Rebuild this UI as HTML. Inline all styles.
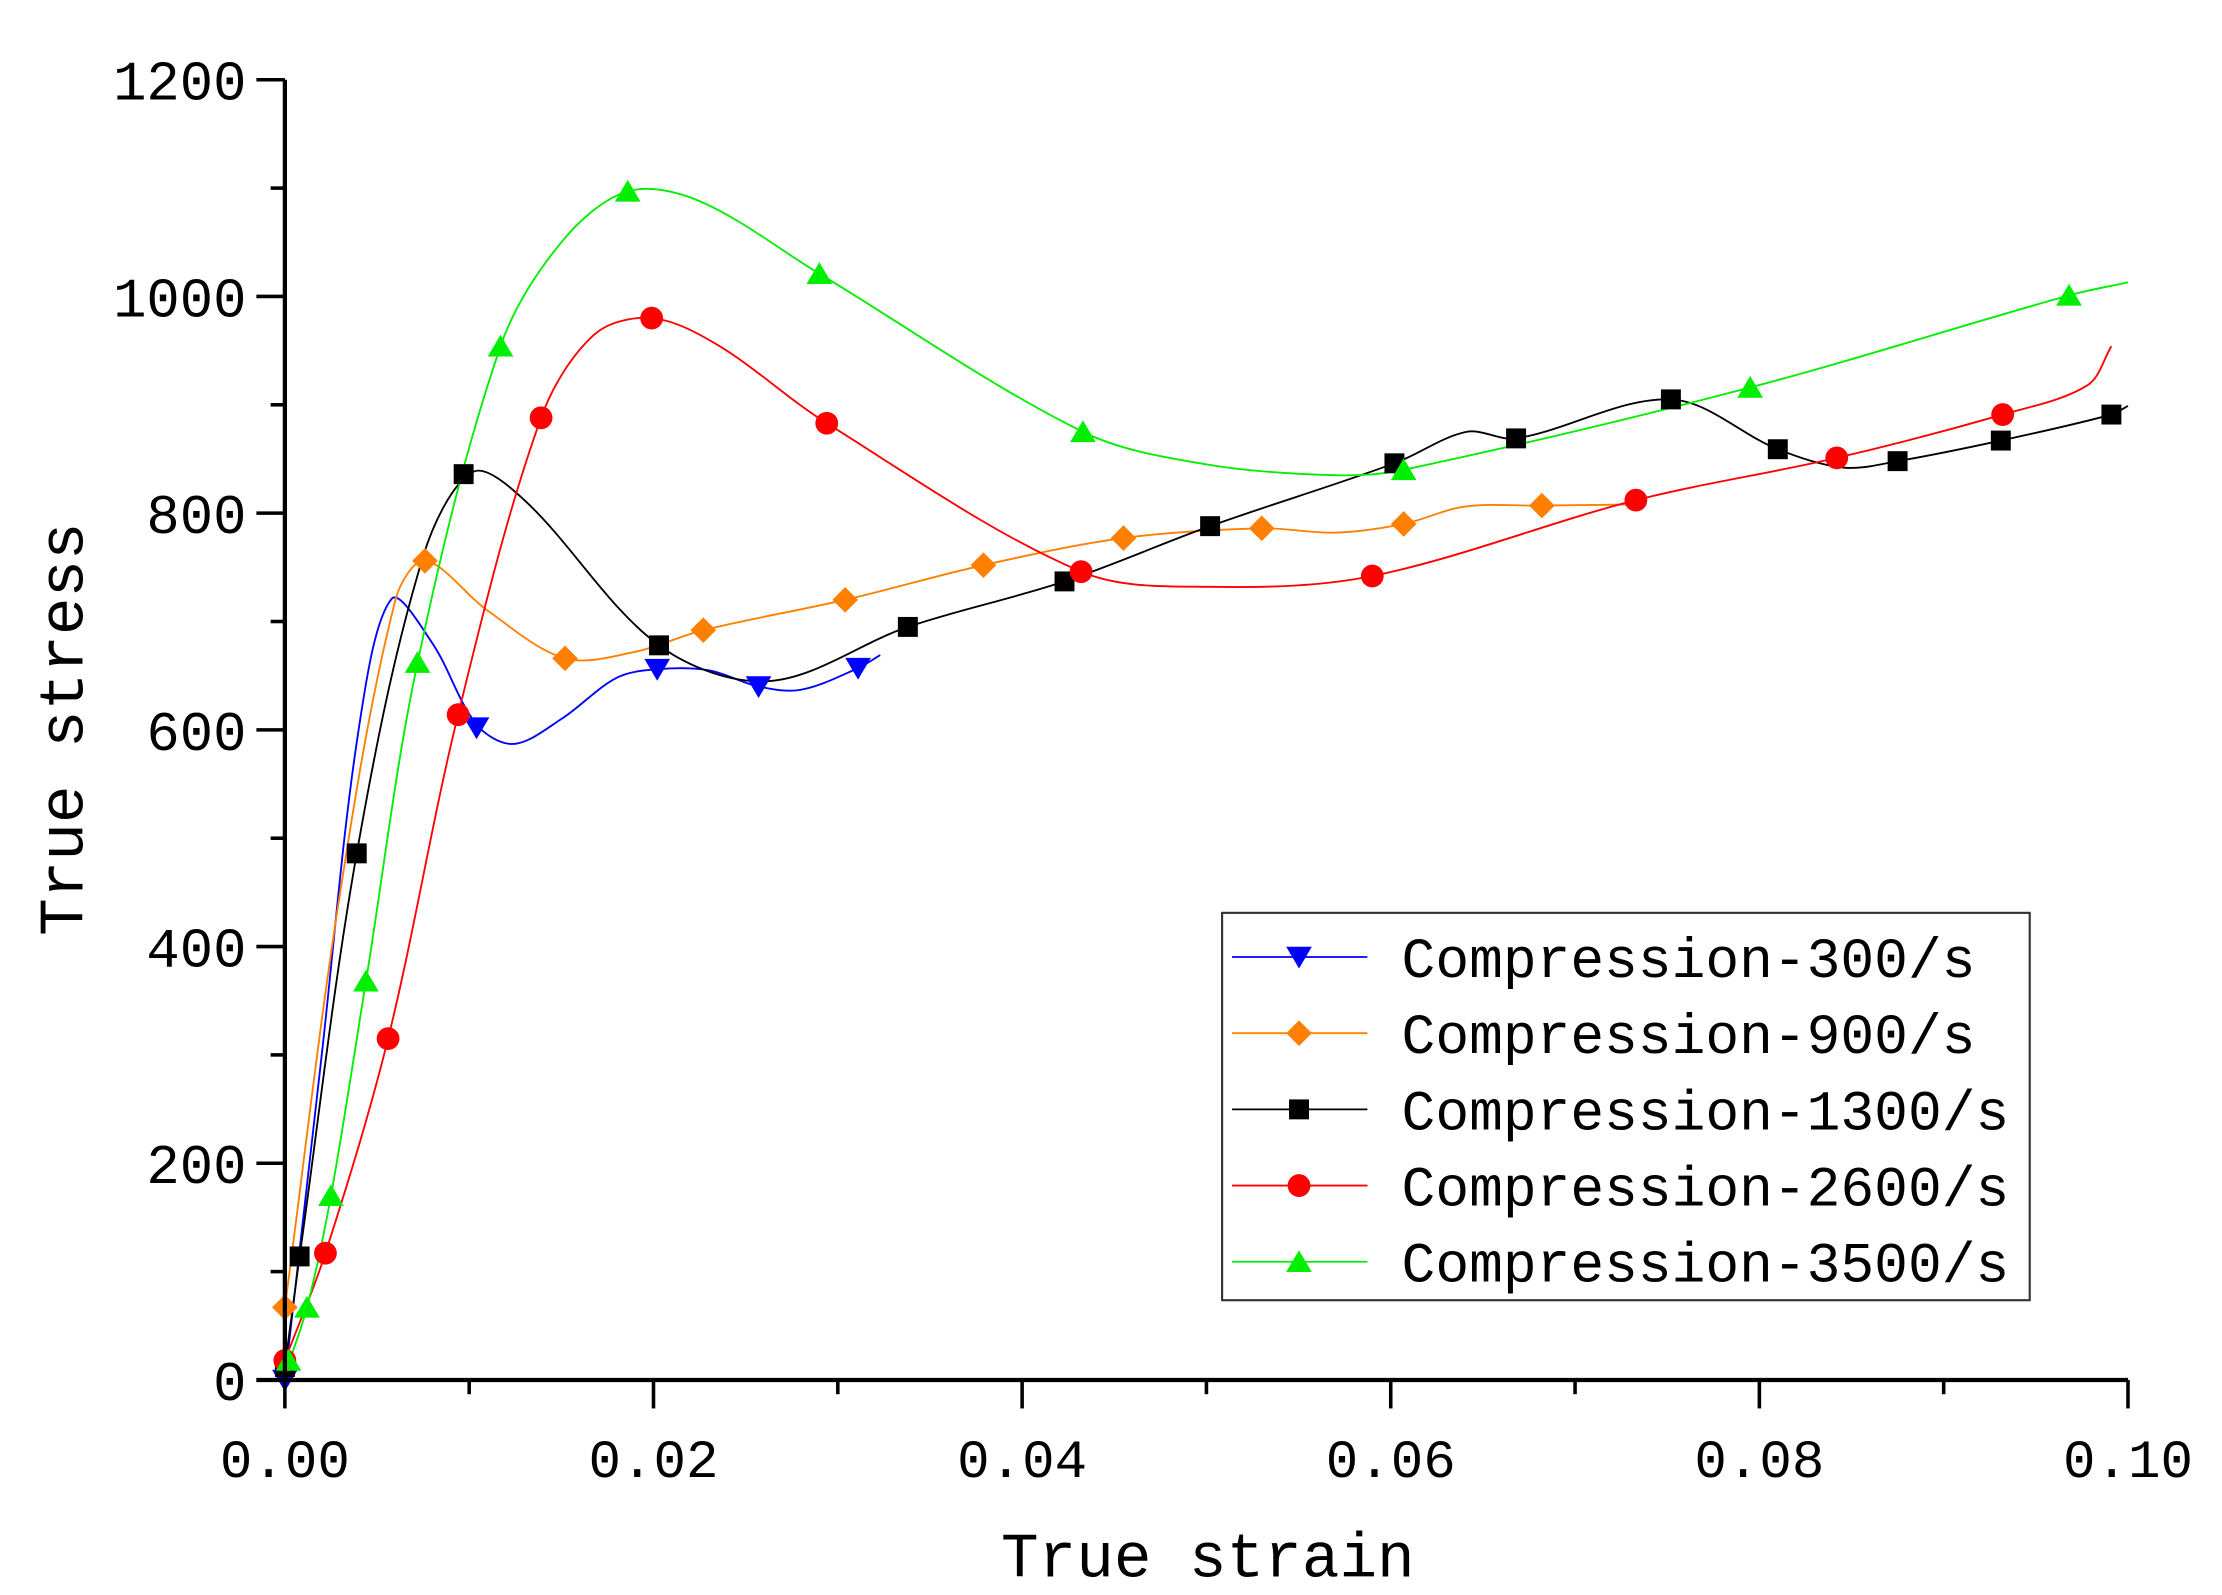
<!DOCTYPE html>
<html><head><meta charset="utf-8"><style>
html,body{margin:0;padding:0;background:#fff;}
svg{display:block;}
</style></head><body>
<svg id="chart" width="2222" height="1595" viewBox="0 0 1560 1120" preserveAspectRatio="none" xmlns="http://www.w3.org/2000/svg"></svg>
<script>
const xTicks = [0, 0.02, 0.04, 0.06, 0.08, 0.10];
const xTickLabels = ["0.00", "0.02", "0.04", "0.06", "0.08", "0.10"];
const yTicks = [0, 200, 400, 600, 800, 1000, 1200];
const yTickLabels = ["0", "200", "400", "600", "800", "1000", "1200"];
const seriesNames = ["Compression-300/s", "Compression-900/s", "Compression-1300/s", "Compression-2600/s", "Compression-3500/s"];

const curve300X = [0, 0.002, 0.004, 0.0058, 0.008, 0.0104, 0.0124, 0.015, 0.018, 0.0202, 0.023, 0.0257, 0.028, 0.0311, 0.0323];
const curve300Y = [0, 300, 600, 721, 680, 605, 587, 610, 648, 656, 655, 640, 637, 657, 669];
const mark300X = [0, 0.0104, 0.0202, 0.0257, 0.0311];
const mark300Y = [0, 602, 656, 640, 657];

const curve900X = [0, 0.003, 0.006, 0.0076, 0.011, 0.0152, 0.019, 0.0227, 0.0304, 0.0379, 0.0455, 0.053, 0.057, 0.0607, 0.064, 0.0682, 0.0734];
const curve900Y = [67, 450, 720, 756, 710, 666, 672, 692, 720, 752, 777, 786, 782, 790, 806, 807, 808];
const mark900X = [0, 0.0076, 0.0152, 0.0227, 0.0304, 0.0379, 0.0455, 0.053, 0.0607, 0.0682];
const mark900Y = [67, 756, 666, 692, 720, 752, 777, 786, 790, 807];

const curve1300X = [0, 0.0008, 0.0039, 0.0075, 0.0102, 0.013, 0.0203, 0.0263, 0.0338, 0.0423, 0.0502, 0.0602, 0.0641, 0.0668, 0.0752, 0.081, 0.0846, 0.0875, 0.0931, 0.0991, 0.1];
const curve1300Y = [12, 114, 486, 760, 838, 812, 678, 645, 695, 737, 788, 846, 875, 869, 905, 859, 842, 848, 867, 891, 899];
const mark1300X = [0, 0.0008, 0.0039, 0.0097, 0.0203, 0.0338, 0.0423, 0.0502, 0.0602, 0.0668, 0.0752, 0.081, 0.0875, 0.0931, 0.0991];
const mark1300Y = [12, 114, 486, 836, 678, 695, 737, 788, 846, 869, 905, 859, 848, 867, 891];

const curve2600X = [0, 0.0022, 0.0056, 0.0094, 0.0139, 0.0168, 0.0199, 0.0235, 0.0294, 0.0432, 0.0502, 0.059, 0.0733, 0.0842, 0.0932, 0.0978, 0.0991];
const curve2600Y = [18, 117, 315, 614, 888, 965, 980, 955, 883, 746, 732, 742, 812, 851, 891, 918, 954];
const mark2600X = [0, 0.0022, 0.0056, 0.0094, 0.0139, 0.0199, 0.0294, 0.0432, 0.059, 0.0733, 0.0842, 0.0932];
const mark2600Y = [18, 117, 315, 614, 888, 980, 883, 746, 742, 812, 851, 891];

const curve3500X = [0, 0.0012, 0.0025, 0.0044, 0.0072, 0.0117, 0.015, 0.0186, 0.0225, 0.029, 0.0433, 0.05, 0.057, 0.0607, 0.0795, 0.0968, 0.1];
const curve3500Y = [5, 67, 170, 368, 662, 954, 1050, 1097, 1088, 1021, 875, 845, 835, 840, 916, 1001, 1013];
const mark3500X = [0.0002, 0.0012, 0.0025, 0.0044, 0.0072, 0.0117, 0.0186, 0.029, 0.0433, 0.0607, 0.0795, 0.0968];
const mark3500Y = [18, 67, 170, 368, 662, 954, 1097, 1021, 875, 840, 916, 1001];

const NS = "http://www.w3.org/2000/svg";
const svg = document.getElementById("chart");
const X0 = 200, X1 = 1494, Y0 = 969, Y1 = 56;
function sx(v){ return X0 + (v - 0) / 0.10 * (X1 - X0); }
function sy(v){ return Y0 - (v - 0) / 1200 * (Y0 - Y1); }
function el(tag, attrs){ const e = document.createElementNS(NS, tag); for (const k in attrs) e.setAttribute(k, attrs[k]); svg.appendChild(e); return e; }

function smoothPath(xs, ys){
  const p = xs.map((x,i)=>[sx(x), sy(ys[i])]);
  const n = p.length;
  const d = [];
  for (let i=0;i<n-1;i++) d.push(Math.hypot(p[i+1][0]-p[i][0], p[i+1][1]-p[i][1]) || 1);
  const m = p.map((pt,i)=>{
    if (i===0) return [(p[1][0]-p[0][0])/d[0], (p[1][1]-p[0][1])/d[0]];
    if (i===n-1) return [(p[n-1][0]-p[n-2][0])/d[n-2], (p[n-1][1]-p[n-2][1])/d[n-2]];
    const s = d[i-1]+d[i];
    return [(p[i+1][0]-p[i-1][0])/s, (p[i+1][1]-p[i-1][1])/s];
  });
  let str = "M" + p[0][0] + "," + p[0][1];
  for (let i=0;i<n-1;i++){
    const L = d[i]/3;
    str += " C"+(p[i][0]+m[i][0]*L)+","+(p[i][1]+m[i][1]*L)+" "+(p[i+1][0]-m[i+1][0]*L)+","+(p[i+1][1]-m[i+1][1]*L)+" "+p[i+1][0]+","+p[i+1][1];
  }
  return str;
}

function marker(shape, cx, cy, color, name){
  let e;
  const s = 9;
  if (shape === "tri-down") e = el("polygon", {points:`${cx-s},${cy-s*0.8} ${cx+s},${cy-s*0.8} ${cx},${cy+s*0.9}`, fill:color});
  else if (shape === "tri-up") e = el("polygon", {points:`${cx-s},${cy+s*0.8} ${cx+s},${cy+s*0.8} ${cx},${cy-s*0.9}`, fill:color});
  else if (shape === "diamond") e = el("polygon", {points:`${cx},${cy-s} ${cx+s},${cy} ${cx},${cy+s} ${cx-s},${cy}`, fill:color});
  else if (shape === "square") e = el("rect", {x:cx-7, y:cy-7, width:14, height:14, fill:color});
  else e = el("circle", {cx:cx, cy:cy, r:8, fill:color});
  
  
  return e;
}

const series = [
  {cx:curve300X, cy:curve300Y, mx:mark300X, my:mark300Y, color:"#0000ff", shape:"tri-down", key:"300"},
  {cx:curve900X, cy:curve900Y, mx:mark900X, my:mark900Y, color:"#ff7f00", shape:"diamond", key:"900"},
  {cx:curve1300X, cy:curve1300Y, mx:mark1300X, my:mark1300Y, color:"#000000", shape:"square", key:"1300"},
  {cx:curve2600X, cy:curve2600Y, mx:mark2600X, my:mark2600Y, color:"#ff0000", shape:"circle", key:"2600"},
  {cx:curve3500X, cy:curve3500Y, mx:mark3500X, my:mark3500Y, color:"#00ee00", shape:"tri-up", key:"3500"}
];

series.forEach(s=>{
  const path = el("path", {d:smoothPath(s.cx, s.cy), fill:"none", stroke:s.color, "stroke-width":1.3});
  
  
});
series.forEach(s=>{
  s.mx.forEach((x,i)=>{ marker(s.shape, sx(x), sy(s.my[i]), s.color, 'marker-' + s.key); });
});

const ya = el("line", {x1:X0, y1:Y1, x2:X0, y2:Y0, stroke:"#000", "stroke-width":3});


const xa = el("line", {x1:X0-20, y1:Y0, x2:X1, y2:Y0, stroke:"#000", "stroke-width":3});



for (let v=0; v<=1200; v+=100){
  const major = v % 200 === 0;
  el("line", {x1:X0-(major?20:10), y1:sy(v), x2:X0, y2:sy(v), stroke:"#000", "stroke-width":2.5});
}
for (let i=0;i<=10;i++){
  const v = i*0.01, major = i%2===0;
  el("line", {x1:sx(v), y1:Y0, x2:sx(v), y2:Y0+(major?20:10), stroke:"#000", "stroke-width":2.5});
}
yTicks.forEach((v,i)=>{
  const t = el("text", {x:173, y:sy(v)+14, "text-anchor":"end", "font-family":"Liberation Mono, monospace", "font-size":39});
  t.textContent = yTickLabels[i];
  
  
});
xTicks.forEach((v,i)=>{
  const t = el("text", {x:sx(v), y:1037, "text-anchor":"middle", "font-family":"Liberation Mono, monospace", "font-size":38});
  t.textContent = xTickLabels[i];
  
  
});
const xt = el("text", {x:848, y:1107, "text-anchor":"middle", "font-family":"Liberation Mono, monospace", "font-size":44});
xt.textContent = "True strain";


const yt = el("text", {x:0, y:0, "text-anchor":"middle", "font-family":"Liberation Mono, monospace", "font-size":44, transform:"translate(58,512) rotate(-90)"});
yt.textContent = "True stress";



const lb = el("rect", {x:858, y:641, width:567, height:272, fill:"#fff", stroke:"#333", "stroke-width":1.5});


series.forEach((s,i)=>{
  const y = 672 + i*53.5;
  const ln = el("line", {x1:865, y1:y, x2:960, y2:y, stroke:s.color, "stroke-width":1.3});
  
  
  marker(s.shape, 912, y, s.color, 'legend-marker');
  const t = el("text", {x:984, y:y+14, "font-family":"Liberation Mono, monospace", "font-size":39.5});
  t.textContent = seriesNames[i];
  
  
});
</script>
</body></html>
